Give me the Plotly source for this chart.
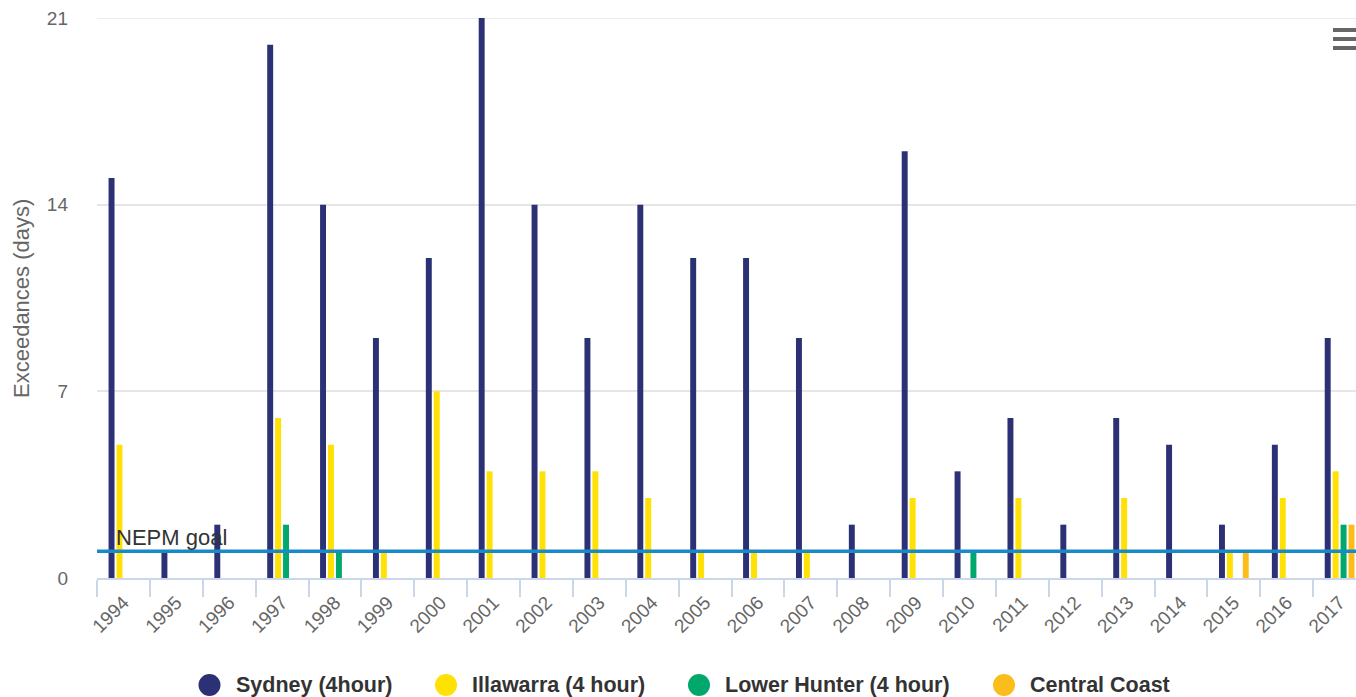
import plotly.graph_objects as go

years = [str(y) for y in range(1994, 2018)]
sydney = [15, 1, 2, 20, 14, 9, 12, 21, 14, 9, 14, 12, 12, 9, 2, 16, 4, 6, 2, 6, 5, 2, 5, 9]
illawarra = [5, 0, 0, 6, 5, 1, 7, 4, 4, 4, 3, 1, 1, 1, 0, 3, 0, 3, 0, 3, 0, 1, 3, 4]
lower_hunter = [0, 0, 0, 2, 1, 0, 0, 0, 0, 0, 0, 0, 0, 0, 0, 0, 1, 0, 0, 0, 0, 0, 0, 2]
central_coast = [0, 0, 0, 0, 0, 0, 0, 0, 0, 0, 0, 0, 0, 0, 0, 0, 0, 0, 0, 0, 0, 1, 0, 2]
series_names = ["Sydney (4hour)", "Illawarra (4 hour)", "Lower Hunter (4 hour)", "Central Coast"]
series_colors = ["#2b3174", "#ffe105", "#00a96b", "#fbbd1b"]
NEPM_GOAL = 1
y_ticks = [0, 7, 14, 21]

FONT = "Liberation Sans, Arial, sans-serif"

W, H = 1356, 697
PLOT_TOP, PLOT_BOTTOM, PLOT_LEFT = 18, 578, 97
L, R, T, B = PLOT_LEFT, 0, PLOT_TOP, H - PLOT_BOTTOM
pw = W - L - R
ph = PLOT_BOTTOM - PLOT_TOP


def px_x(sx):
    return (sx - PLOT_LEFT) / pw


def px_y(sy):
    return (PLOT_BOTTOM - sy) / ph


fig = go.Figure()
for name, vals, col in zip(series_names, [sydney, illawarra, lower_hunter, central_coast], series_colors):
    fig.add_trace(go.Bar(x=years, y=vals, name=name, marker_color=col,
                         marker_line_width=0, showlegend=False))

# top grid line (at the upper end of the axis range)
fig.add_shape(type="line", xref="paper", yref="y", x0=0, x1=1, y0=y_ticks[-1], y1=y_ticks[-1],
              line=dict(color="#e6e6e6", width=1.5), layer="below")

# NEPM goal line
fig.add_shape(type="line", xref="paper", yref="y", x0=0, x1=1, y0=NEPM_GOAL, y1=NEPM_GOAL,
              line=dict(color="#1a89c8", width=3.5))
fig.add_annotation(xref="paper", yref="y", x=0, y=NEPM_GOAL, xanchor="left", yanchor="bottom",
                   xshift=17, yshift=-1, text="NEPM goal", showarrow=False,
                   font=dict(family=FONT, size=22, color="#333333"))

# y-axis title
fig.add_annotation(xref="paper", yref="paper", x=0, y=px_y(299), xanchor="center", yanchor="middle",
                   xshift=21 - PLOT_LEFT, text="Exceedances (days)", textangle=-90, showarrow=False,
                   font=dict(family=FONT, size=22, color="#666666"))

# export menu icon
for py in [30, 39, 48]:
    fig.add_shape(type="line", xref="paper", yref="paper",
                  x0=px_x(1333), x1=1.0, y0=px_y(py), y1=px_y(py),
                  line=dict(color="#666666", width=4))

# legend (circle markers, bold labels) drawn at the bottom
legend_circle_x = [209.5, 446, 699, 1004]
LEGEND_Y = 685
for name, col, cx in zip(series_names, series_colors, legend_circle_x):
    fig.add_shape(type="circle", xref="paper", yref="paper", xsizemode="pixel", ysizemode="pixel",
                  xanchor=px_x(cx), yanchor=px_y(LEGEND_Y), x0=-11, x1=11, y0=-11, y1=11,
                  fillcolor=col, line=dict(width=0))
    fig.add_annotation(xref="paper", yref="paper", x=px_x(cx + 24), y=px_y(LEGEND_Y),
                       xanchor="left", yanchor="middle", text="<b>" + name + "</b>", showarrow=False,
                       font=dict(family=FONT, size=21.5, color="#333333"))

fig.update_layout(
    width=W, height=H,
    margin=dict(l=L, r=R, t=T, b=B, pad=0),
    plot_bgcolor="white", paper_bgcolor="white",
    barmode="group", bargap=0.4, bargroupgap=0.25,
    font=dict(family=FONT, color="#666666"),
    showlegend=False,
    xaxis=dict(type="category", range=[-0.5, 23.31], tickson="boundaries", ticks="outside",
               ticklen=17, tickwidth=1.5, tickcolor="#ccd6eb", showline=True, linecolor="#ccd6eb",
               linewidth=2, showgrid=False, tickangle=-45, automargin=False,
               ticklabelstandoff=4, tickfont=dict(size=19, color="#666666")),
    yaxis=dict(range=[0, 21], tickvals=y_ticks, showgrid=True, gridcolor="#e6e6e6", gridwidth=1.5,
               zeroline=False, ticks="", ticklabelstandoff=28, automargin=False,
               ticklabeloverflow="allow", tickfont=dict(size=19, color="#666666")),
)

fig.write_html("out.html", config={"displayModeBar": False},
               post_script="document.body.style.margin='0';")
